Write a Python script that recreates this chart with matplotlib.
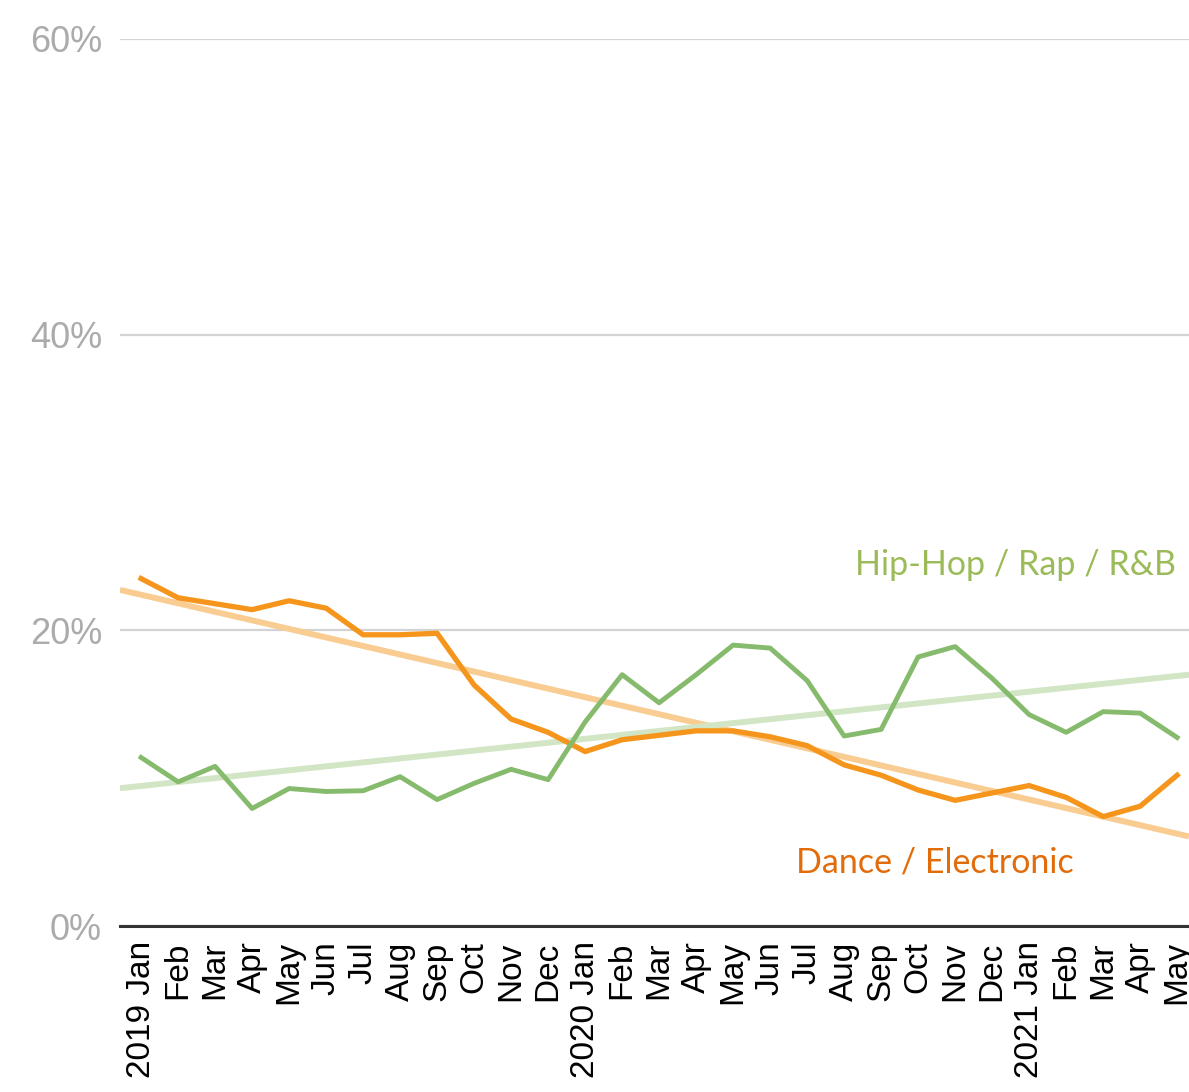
import matplotlib
matplotlib.use("Agg")
import matplotlib.pyplot as plt
import numpy as np

# monthly share of listening, Jan 2019 - May 2021
months = ['Jan', 'Feb', 'Mar', 'Apr', 'May', 'Jun', 'Jul', 'Aug', 'Sep', 'Oct', 'Nov', 'Dec',
          'Jan', 'Feb', 'Mar', 'Apr', 'May', 'Jun', 'Jul', 'Aug', 'Sep', 'Oct', 'Nov', 'Dec',
          'Jan', 'Feb', 'Mar', 'Apr', 'May']
years = {0: '2019', 12: '2020', 24: '2021'}

dance = [23.5, 22.2, 21.8, 21.4, 22.0, 21.5, 19.7, 19.7, 19.8, 16.3, 14.0, 13.1,
         11.8, 12.6, 12.9, 13.2, 13.2, 12.8, 12.2, 10.9, 10.2, 9.2, 8.5, 9.0,
         9.5, 8.7, 7.4, 8.1, 10.2]
hiphop = [11.4, 9.75, 10.8, 7.95, 9.3, 9.1, 9.15, 10.1, 8.55, 9.65, 10.6, 9.9,
          13.8, 17.0, 15.1, 17.0, 19.0, 18.8, 16.6, 12.85, 13.3, 18.2, 18.9, 16.75,
          14.3, 13.1, 14.5, 14.4, 12.75]

orange = '#f5951c'
orange_light = '#f9cd92'
orange_text = '#e36c0a'
green = '#86ba6c'
green_light = '#d2e6c6'
green_text = '#9bbb59'

W, H = 1189, 1092
x = np.arange(len(months))
labels = [f'{years[i]} {m}' if i in years else m for i, m in enumerate(months)]

fig = plt.figure(figsize=(W/100, H/100), dpi=100)
ax = fig.add_axes([120/W, (H-926)/H, 1 - 120/W, (926-39)/H])

xlim = (-0.57, 28.32)
xx = np.array(xlim)

# linear trends
for series, col in [(dance, orange_light), (hiphop, green_light)]:
    k, b = np.polyfit(x, series, 1)
    ax.plot(xx, k*xx + b, color=col, lw=4.3, zorder=2, solid_capstyle='butt')

ax.plot(x, dance, color=orange, lw=3.8, zorder=3)
ax.plot(x, hiphop, color=green, lw=3.5, zorder=4)

ax.set_xlim(*xlim)
ax.set_ylim(0, 60)
ax.set_yticks([0, 20, 40, 60])
ax.set_yticklabels(['0%', '20%', '40%', '60%'])
ax.yaxis.grid(True, color='#d3d3d3', lw=1.6)
ax.set_axisbelow(True)

ax.set_xticks(x)
ax.set_xticklabels(labels, rotation=90, va='top', ha='center',
                   fontsize=24, family='Liberation Sans', color='black')
ax.tick_params(axis='x', length=0, pad=11)
ax.tick_params(axis='y', length=0, pad=13, labelsize=26, labelcolor='#ababab')
for t in ax.get_yticklabels():
    t.set_family('Liberation Sans')

for s in ['top', 'right', 'left']:
    ax.spines[s].set_visible(False)
ax.spines['bottom'].set_color('#333333')
ax.spines['bottom'].set_linewidth(2.2)
ax.spines['bottom'].set_zorder(5)

fig.text(1176/W, 1 - 565/H, 'Hip-Hop / Rap / R&B', ha='right', va='center',
         fontsize=24.5, family='Lato', color=green_text)
fig.text(1074/W, 1 - 862/H, 'Dance / Electronic', ha='right', va='center',
         fontsize=24.5, family='Lato', color=orange_text)

fig.savefig('out.png', dpi=100)
